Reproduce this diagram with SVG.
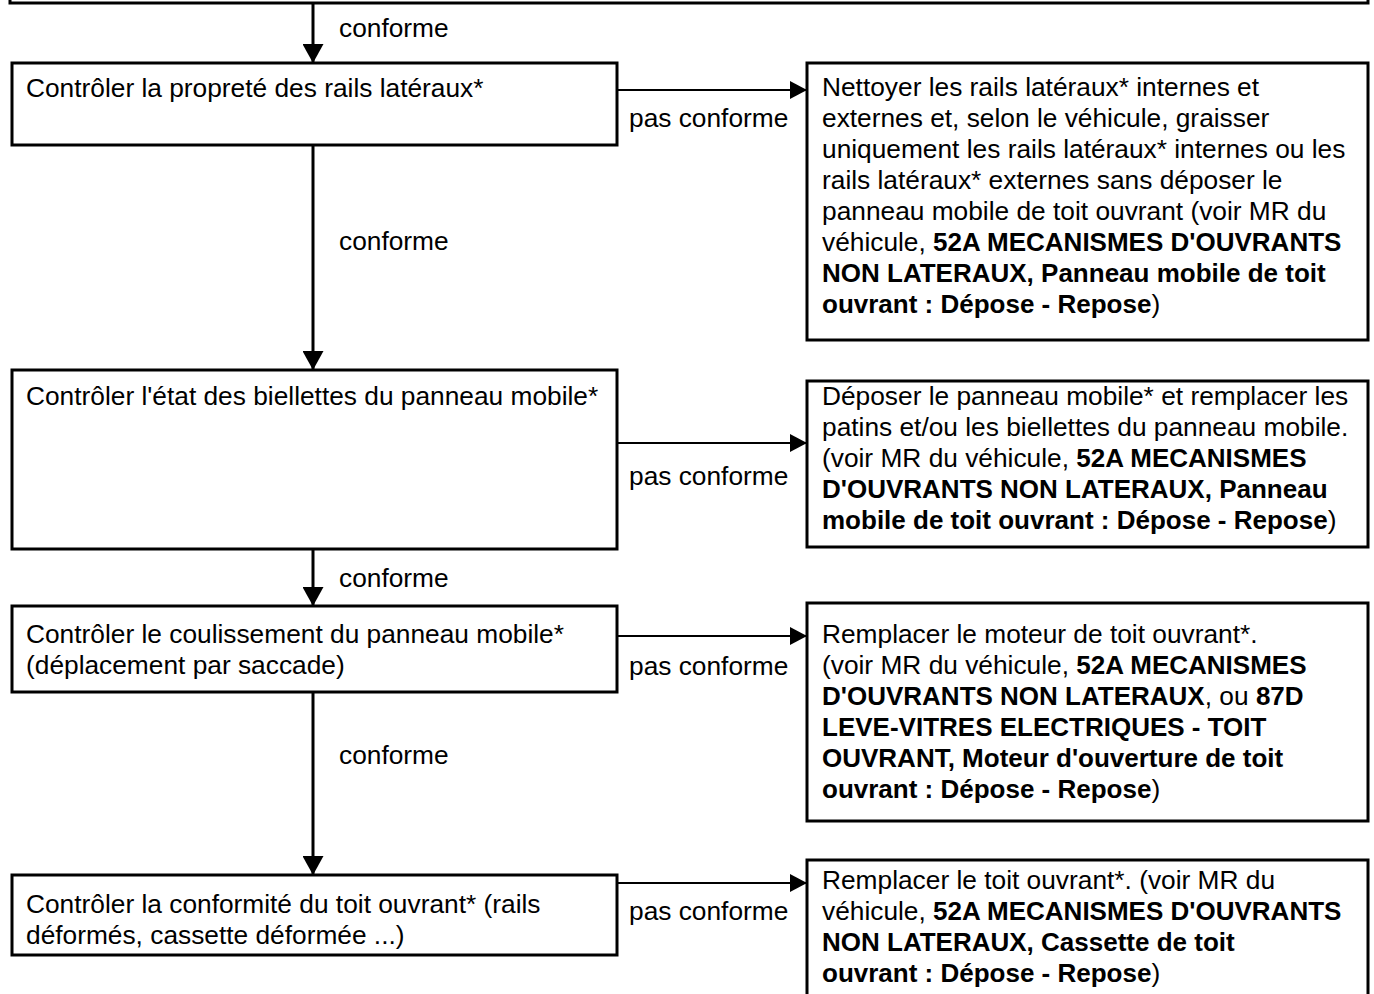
<svg xmlns="http://www.w3.org/2000/svg" width="1374" height="994" viewBox="0 0 1374 994">
<style>
.t{font-family:"Liberation Sans",Arial,Helvetica,sans-serif;font-size:26.3px;fill:#000}
.b{font-weight:bold;font-size:26px}
.box{fill:#fff;stroke:#000;stroke-width:3}
.v{stroke:#000;stroke-width:3;fill:none}
.h{stroke:#000;stroke-width:2;fill:none}
</style>
<defs>
<marker id="av" markerUnits="userSpaceOnUse" markerWidth="19" markerHeight="21" refX="19" refY="10.5" orient="auto"><path d="M0,0 L19,10.5 L0,21 z" fill="#000"/></marker>
<marker id="ah" markerUnits="userSpaceOnUse" markerWidth="17" markerHeight="18" refX="17" refY="9" orient="auto"><path d="M0,0 L17,9 L0,18 z" fill="#000"/></marker>
</defs>
<g id="top"><rect class="box" x="10" y="-60" width="1358" height="63"/></g>
<g id="connectors">
<line class="v" x1="313" y1="4" x2="313" y2="63" marker-end="url(#av)"/>
<line class="v" x1="313" y1="145" x2="313" y2="370" marker-end="url(#av)"/>
<line class="v" x1="313" y1="549" x2="313" y2="606" marker-end="url(#av)"/>
<line class="v" x1="313" y1="692" x2="313" y2="875" marker-end="url(#av)"/>
<line class="h" x1="617" y1="90" x2="807" y2="90" marker-end="url(#ah)"/>
<line class="h" x1="617" y1="443" x2="807" y2="443" marker-end="url(#ah)"/>
<line class="h" x1="617" y1="636" x2="807" y2="636" marker-end="url(#ah)"/>
<line class="h" x1="617" y1="883" x2="807" y2="883" marker-end="url(#ah)"/>
<text class="t" x="339" y="37">conforme</text>
<text class="t" x="339" y="250">conforme</text>
<text class="t" x="339" y="587">conforme</text>
<text class="t" x="339" y="764">conforme</text>
<text class="t" x="629" y="127">pas conforme</text>
<text class="t" x="629" y="485">pas conforme</text>
<text class="t" x="629" y="675">pas conforme</text>
<text class="t" x="629" y="920">pas conforme</text>
</g>
<g id="b1"><rect class="box" x="12" y="63" width="605" height="82"/>
<text class="t" x="26" y="97">Contrôler la propreté des rails latéraux*</text></g>
<g id="b2"><rect class="box" x="12" y="370" width="605" height="179"/>
<text class="t" x="26" y="405">Contrôler l'état des biellettes du panneau mobile*</text></g>
<g id="b3"><rect class="box" x="12" y="606" width="605" height="86"/>
<text class="t" x="26" y="643">Contrôler le coulissement du panneau mobile*</text>
<text class="t" x="26" y="674">(déplacement par saccade)</text></g>
<g id="b4"><rect class="box" x="12" y="875" width="605" height="80"/>
<text class="t" x="26" y="913">Contrôler la conformité du toit ouvrant* (rails</text>
<text class="t" x="26" y="944">déformés, cassette déformée ...)</text></g>
<g id="r1"><rect class="box" x="807" y="63" width="561" height="277"/>
<text class="t" x="822" y="96">Nettoyer les rails latéraux* internes et</text>
<text class="t" x="822" y="127">externes et, selon le véhicule, graisser</text>
<text class="t" x="822" y="158">uniquement les rails latéraux* internes ou les</text>
<text class="t" x="822" y="189">rails latéraux* externes sans déposer le</text>
<text class="t" x="822" y="220">panneau mobile de toit ouvrant (voir MR du</text>
<text class="t" x="822" y="251">véhicule, <tspan class="b">52A MECANISMES D'OUVRANTS</tspan></text>
<text class="t b" x="822" y="282">NON LATERAUX, Panneau mobile de toit</text>
<text class="t" x="822" y="313"><tspan class="b">ouvrant : Dépose - Repose</tspan>)</text></g>
<g id="r2"><rect class="box" x="807" y="381" width="561" height="166"/>
<text class="t" x="822" y="405">Déposer le panneau mobile* et remplacer les</text>
<text class="t" x="822" y="436">patins et/ou les biellettes du panneau mobile.</text>
<text class="t" x="822" y="467">(voir MR du véhicule, <tspan class="b">52A MECANISMES</tspan></text>
<text class="t b" x="822" y="498">D'OUVRANTS NON LATERAUX, Panneau</text>
<text class="t" x="822" y="529"><tspan class="b">mobile de toit ouvrant : Dépose - Repose</tspan>)</text></g>
<g id="r3"><rect class="box" x="807" y="603" width="561" height="218"/>
<text class="t" x="822" y="643">Remplacer le moteur de toit ouvrant*.</text>
<text class="t" x="822" y="674">(voir MR du véhicule, <tspan class="b">52A MECANISMES</tspan></text>
<text class="t" x="822" y="705"><tspan class="b">D'OUVRANTS NON LATERAUX</tspan>, ou <tspan class="b">87D</tspan></text>
<text class="t b" x="822" y="736">LEVE-VITRES ELECTRIQUES - TOIT</text>
<text class="t b" x="822" y="767">OUVRANT, Moteur d'ouverture de toit</text>
<text class="t" x="822" y="798"><tspan class="b">ouvrant : Dépose - Repose</tspan>)</text></g>
<g id="r4"><rect class="box" x="807" y="860" width="561" height="200"/>
<text class="t" x="822" y="889">Remplacer le toit ouvrant*. (voir MR du</text>
<text class="t" x="822" y="920">véhicule, <tspan class="b">52A MECANISMES D'OUVRANTS</tspan></text>
<text class="t b" x="822" y="951">NON LATERAUX, Cassette de toit</text>
<text class="t" x="822" y="982"><tspan class="b">ouvrant : Dépose - Repose</tspan>)</text></g>
</svg>
